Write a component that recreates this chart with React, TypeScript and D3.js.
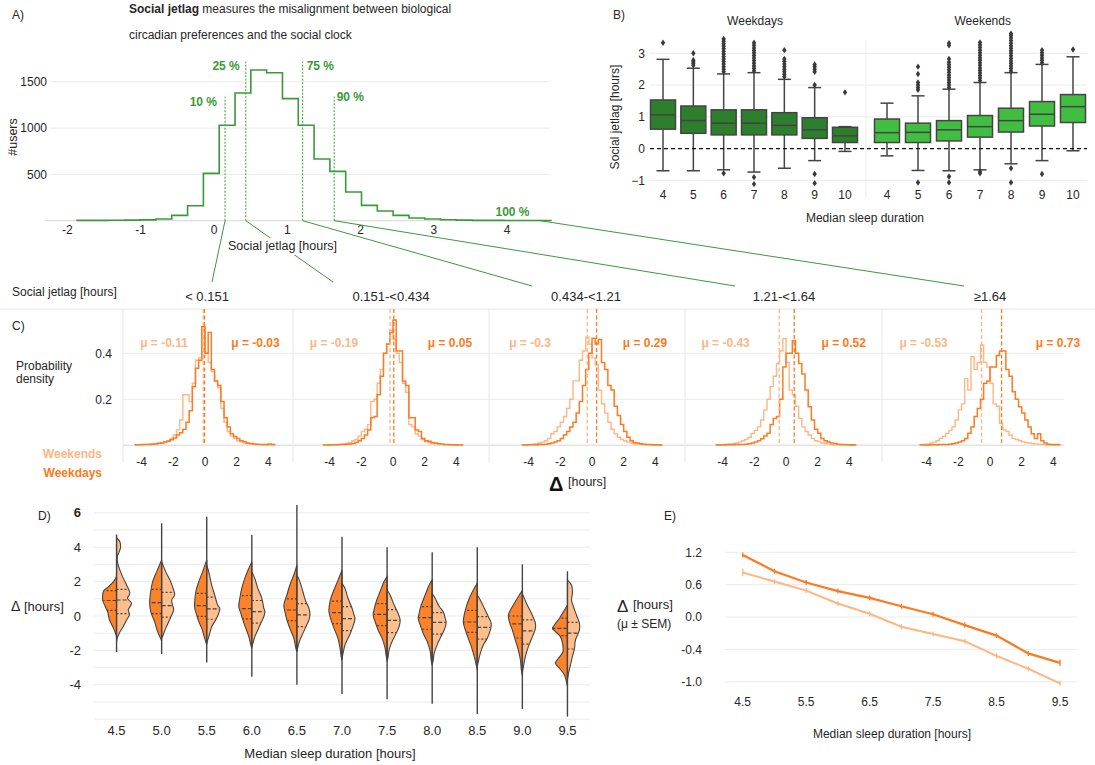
import React, { useEffect, useRef } from "react";
import * as d3 from "d3";

const FONT = "'Liberation Sans', Arial, Helvetica, sans-serif";
const TEXT = "#262626";
const GREEN = "#3a9a3a";
const GRID = "#ebebeb";
const INK = "#444444";
const WD_LINE = "#fd7a20";
const WE_LINE = "#fdb684";
const WD_FILL = "#fd8229";
const WE_FILL = "#fdbf8e";
const BOX_WD = "#2d7f2d";
const BOX_WE = "#41bd41";

// ---------------- Panel A: social jetlag histogram ----------------
const A_BIN_START = -1.87;
const A_BIN_WIDTH = 0.2157;
const A_COUNTS = [4, 3, 5, 6, 9, 18, 58, 162, 511, 1030, 1379, 1627, 1598, 1318, 1030, 666, 533, 310, 166, 104, 58, 29, 18, 11, 6, 4, 3, 2, 2, 2];
const A_PCT_VALUES = [0.151, 0.434, 1.21, 1.64];
const A_PCT_LABELS = ["10 %", "25 %", "75 %", "90 %"];
const A_X_TICKS = [-2, -1, 0, 1, 2, 3, 4];
const A_Y_TICKS = [500, 1000, 1500];

// ---------------- Panel B: boxplots ----------------
const B_CATS = ["4", "5", "6", "7", "8", "9", "10"];
const B_Y_TICKS = [-1, 0, 1, 2, 3];
// [lower whisker, q1, median, q3, upper whisker]
const B_WD_BOX = [
  [-0.7, 0.61, 1.06, 1.53, 2.81],
  [-0.7, 0.48, 0.88, 1.34, 2.53],
  [-0.67, 0.43, 0.8, 1.22, 2.35],
  [-0.74, 0.43, 0.8, 1.22, 2.39],
  [-0.62, 0.43, 0.73, 1.13, 2.18],
  [-0.38, 0.32, 0.59, 0.97, 1.92],
  [-0.09, 0.19, 0.4, 0.67, 0.69],
];
const B_WE_BOX = [
  [-0.23, 0.19, 0.5, 0.93, 1.43],
  [-0.69, 0.19, 0.51, 0.8, 1.66],
  [-0.7, 0.24, 0.59, 0.88, 1.87],
  [-0.67, 0.36, 0.69, 1.04, 2.08],
  [-0.48, 0.52, 0.88, 1.27, 2.39],
  [-0.38, 0.71, 1.08, 1.48, 2.65],
  [-0.07, 0.82, 1.32, 1.7, 2.89],
];
const B_WD_OUT = [
  [3.33],
  [2.62, 2.68, 2.73, 2.78, 3.0],
  [-0.78, 2.42, 2.5, 2.58, 2.66, 2.74, 2.82, 2.9, 2.98, 3.06, 3.14, 3.22, 3.3, 3.38, 3.45],
  [-1.12, -0.9, 2.45, 2.53, 2.61, 2.69, 2.77, 2.85, 2.93, 3.01, 3.09, 3.17, 3.25, 3.33],
  [2.26, 2.34, 2.42, 2.5, 2.58, 2.66, 2.74, 2.82, 3.1],
  [-1.09, -0.8, 2.0, 2.42, 2.5, 2.58, 2.65],
  [1.77],
];
const B_WE_OUT = [
  [],
  [-1.07, 1.85, 1.92, 2.0, 2.08, 2.35, 2.58],
  [-1.07, -0.88, 1.92, 2.0, 2.08, 2.16, 2.24, 2.32, 2.4, 2.48, 2.56, 2.64, 2.72, 2.82, 3.25, 3.32],
  [-0.78, -0.72, 2.14, 2.22, 2.3, 2.38, 2.46, 2.54, 2.62, 2.7, 2.78, 2.86, 2.94, 3.02, 3.1, 3.18, 3.26, 3.34],
  [-1.07, -0.62, 2.44, 2.52, 2.6, 2.68, 2.76, 2.84, 2.92, 3.0, 3.08, 3.16, 3.24, 3.32, 3.4, 3.48, 3.56, 3.62],
  [-0.8, 2.7, 2.78, 2.86, 2.94, 3.02, 3.1],
  [3.12],
];

// ---------------- Panel C: delta histograms per jetlag group ----------------
const C_GROUPS = ["< 0.151", "0.151-<0.434", "0.434-<1.21", "1.21-<1.64", "\u22651.64"];
const C_MEAN_WE = [-0.11, -0.19, -0.3, -0.43, -0.53];
const C_MEAN_WD = [-0.03, 0.05, 0.29, 0.52, 0.73];
const C_MEAN_WE_LABEL = ["-0.11", "-0.19", "-0.3", "-0.43", "-0.53"];
const C_MEAN_WD_LABEL = ["-0.03", "0.05", "0.29", "0.52", "0.73"];
const C_BIN_START = -4.4;
const C_BIN_WIDTH = 0.2;
const C_X_TICKS = [-4, -2, 0, 2, 4];
const C_Y_TICKS = [0.2, 0.4];
const C_WD = [
  [0.002, 0.002, 0.003, 0.003, 0.004, 0.005, 0.006, 0.008, 0.01, 0.014, 0.018, 0.024, 0.032, 0.045, 0.055, 0.07, 0.1, 0.15, 0.255, 0.335, 0.37, 0.515, 0.4, 0.49, 0.33, 0.28, 0.26, 0.19, 0.12, 0.08, 0.05, 0.038, 0.03, 0.02, 0.015, 0.01, 0.008, 0.006, 0.005, 0.004, 0.004, 0.003, 0.006, 0.003],
  [0.001, 0.001, 0.002, 0.002, 0.002, 0.003, 0.004, 0.005, 0.006, 0.008, 0.012, 0.02, 0.03, 0.045, 0.067, 0.12, 0.125, 0.22, 0.3, 0.4, 0.44, 0.49, 0.545, 0.41, 0.41, 0.28, 0.26, 0.12, 0.12, 0.067, 0.06, 0.03, 0.02, 0.018, 0.012, 0.01, 0.007, 0.006, 0.004, 0.003, 0.002, 0.002, 0.001, 0.001],
  [0.001, 0.001, 0.002, 0.002, 0.002, 0.003, 0.004, 0.005, 0.007, 0.01, 0.014, 0.02, 0.03, 0.045, 0.06, 0.08, 0.1, 0.14, 0.19, 0.26, 0.33, 0.4, 0.465, 0.44, 0.46, 0.36, 0.33, 0.26, 0.24, 0.17, 0.13, 0.09, 0.06, 0.035, 0.02, 0.012, 0.01, 0.007, 0.005, 0.004, 0.003, 0.002, 0.002, 0.001],
  [0.001, 0.001, 0.001, 0.002, 0.002, 0.002, 0.003, 0.003, 0.004, 0.005, 0.007, 0.01, 0.014, 0.02, 0.028, 0.04, 0.052, 0.09, 0.117, 0.125, 0.2, 0.34, 0.4, 0.4, 0.455, 0.4, 0.356, 0.31, 0.24, 0.168, 0.11, 0.07, 0.052, 0.03, 0.02, 0.014, 0.01, 0.008, 0.005, 0.004, 0.003, 0.002, 0.002, 0.001],
  [0.001, 0.001, 0.001, 0.002, 0.002, 0.002, 0.003, 0.003, 0.004, 0.005, 0.007, 0.01, 0.014, 0.02, 0.03, 0.052, 0.08, 0.125, 0.16, 0.2, 0.27, 0.28, 0.34, 0.34, 0.39, 0.41, 0.41, 0.33, 0.3, 0.233, 0.2, 0.168, 0.14, 0.11, 0.08, 0.05, 0.03, 0.05, 0.02, 0.01, 0.005, 0.004, 0.003, 0.004],
];
const C_WE = [
  [0.002, 0.003, 0.003, 0.004, 0.005, 0.006, 0.008, 0.01, 0.012, 0.016, 0.02, 0.03, 0.045, 0.067, 0.11, 0.22, 0.22, 0.19, 0.27, 0.37, 0.38, 0.5, 0.4, 0.36, 0.32, 0.28, 0.25, 0.16, 0.1, 0.06, 0.04, 0.03, 0.02, 0.015, 0.01, 0.008, 0.006, 0.005, 0.004, 0.003, 0.003, 0.002, 0.002, 0.002],
  [0.002, 0.002, 0.003, 0.003, 0.004, 0.004, 0.006, 0.008, 0.012, 0.02, 0.025, 0.04, 0.06, 0.07, 0.09, 0.19, 0.2, 0.27, 0.33, 0.4, 0.44, 0.5, 0.46, 0.4, 0.36, 0.27, 0.23, 0.09, 0.08, 0.05, 0.04, 0.025, 0.015, 0.012, 0.008, 0.006, 0.005, 0.004, 0.003, 0.002, 0.002, 0.001, 0.001, 0.001],
  [0.002, 0.003, 0.004, 0.005, 0.007, 0.01, 0.014, 0.02, 0.03, 0.05, 0.06, 0.08, 0.1, 0.125, 0.16, 0.2, 0.28, 0.28, 0.37, 0.41, 0.47, 0.44, 0.38, 0.35, 0.24, 0.18, 0.14, 0.1, 0.07, 0.05, 0.035, 0.025, 0.02, 0.014, 0.01, 0.007, 0.005, 0.004, 0.003, 0.002, 0.002, 0.001, 0.001, 0.001],
  [0.002, 0.003, 0.004, 0.005, 0.006, 0.008, 0.01, 0.014, 0.02, 0.025, 0.035, 0.052, 0.065, 0.08, 0.11, 0.154, 0.2, 0.255, 0.3, 0.356, 0.41, 0.465, 0.36, 0.24, 0.22, 0.17, 0.117, 0.08, 0.06, 0.045, 0.03, 0.02, 0.015, 0.01, 0.008, 0.005, 0.003, 0.002, 0.002, 0.001, 0.001, 0.001, 0.001, 0.001],
  [0.003, 0.004, 0.006, 0.01, 0.014, 0.02, 0.03, 0.038, 0.052, 0.065, 0.08, 0.11, 0.154, 0.18, 0.29, 0.24, 0.385, 0.33, 0.36, 0.436, 0.36, 0.34, 0.27, 0.18, 0.17, 0.095, 0.067, 0.06, 0.045, 0.03, 0.025, 0.02, 0.015, 0.012, 0.01, 0.008, 0.006, 0.005, 0.004, 0.003, 0.002, 0.002, 0.001, 0.001],
];

// ---------------- Panel D: split violins ----------------
const D_CATS = ["4.5", "5.0", "5.5", "6.0", "6.5", "7.0", "7.5", "8.0", "8.5", "9.0", "9.5"];
const D_Y_TICKS = [-4, -2, 0, 2, 4, 6];
const D_RANGE = [[-2.1, 4.74], [-2.21, 5.39], [-2.7, 5.77], [-3.53, 4.71], [-4.0, 6.45], [-4.54, 4.61], [-4.84, 3.99], [-5.1, 3.7], [-5.7, 4.0], [-5.4, 3.0], [-5.85, 2.6]];
// [q1, median, q3]
const D_WD_QUART = [[0.33, 0.9, 1.47], [0.14, 0.78, 1.55], [-0.02, 0.6, 1.32], [-0.17, 0.43, 1.18], [-0.27, 0.35, 0.99], [-0.44, 0.2, 0.87], [-0.56, 0.1, 0.72], [-0.77, -0.1, 0.55], [-0.95, -0.35, 0.33], [-1.28, -0.46, 0.0], [-1.14, -0.72, -0.12]];
const D_WE_QUART = [[0.14, 0.93, 1.55], [-0.07, 0.6, 1.37], [-0.19, 0.41, 1.1], [-0.41, 0.26, 0.9], [-0.62, 0.06, 0.72], [-0.85, -0.15, 0.55], [-0.97, -0.25, 0.37], [-1.05, -0.37, 0.2], [-1.34, -0.66, -0.04], [-1.63, -0.87, -0.23], [-1.92, -1.0, -0.37]];
// density profiles: [value, relative half width]
const D_WD_SHAPE = [
  [[2.29, 0], [2.0, 0.2], [1.71, 0.53], [1.45, 0.87], [1.12, 0.93], [0.93, 0.93], [0.64, 0.8], [0.26, 0.6], [-0.23, 0.47], [-0.72, 0.2], [-1.0, 0.07], [-1.2, 0]],
  [[3.26, 0], [2.58, 0.33], [2.0, 0.6], [1.41, 0.73], [0.83, 0.8], [0.26, 0.73], [-0.33, 0.47], [-0.91, 0.27], [-1.3, 0.07], [-1.45, 0]],
  [[3.26, 0], [2.58, 0.27], [2.0, 0.53], [1.41, 0.73], [0.83, 0.8], [0.45, 0.8], [0.06, 0.67], [-0.33, 0.53], [-0.72, 0.33], [-1.1, 0.2], [-1.49, 0.07], [-1.68, 0]],
  [[3.16, 0], [2.77, 0.2], [2.19, 0.47], [1.61, 0.67], [1.03, 0.8], [0.55, 0.87], [0.16, 0.73], [-0.23, 0.6], [-0.72, 0.4], [-1.2, 0.2], [-1.68, 0.07], [-1.88, 0]],
  [[2.97, 0], [2.58, 0.13], [1.8, 0.47], [1.22, 0.67], [0.64, 0.87], [0.26, 0.8], [-0.23, 0.67], [-0.72, 0.47], [-1.3, 0.2], [-1.88, 0.07], [-2.07, 0]],
  [[2.67, 0], [2.38, 0.13], [1.8, 0.4], [1.22, 0.67], [0.83, 0.8], [0.26, 0.87], [-0.23, 0.73], [-0.72, 0.53], [-1.3, 0.27], [-1.88, 0.13], [-2.27, 0.07], [-2.56, 0]],
  [[2.29, 0], [2.0, 0.2], [1.41, 0.47], [0.83, 0.73], [0.35, 0.87], [0.06, 0.93], [-0.33, 0.8], [-0.81, 0.6], [-1.3, 0.33], [-1.88, 0.13], [-2.27, 0.07], [-2.56, 0]],
  [[2.1, 0], [1.8, 0.2], [1.22, 0.47], [0.64, 0.73], [0.16, 0.87], [-0.13, 0.93], [-0.52, 0.8], [-1.01, 0.6], [-1.49, 0.33], [-2.07, 0.13], [-2.56, 0.07], [-2.85, 0]],
  [[1.9, 0], [1.61, 0.2], [1.03, 0.53], [0.55, 0.73], [0.06, 0.87], [-0.33, 0.93], [-0.81, 0.8], [-1.3, 0.6], [-1.78, 0.4], [-2.36, 0.2], [-2.85, 0.07], [-3.14, 0]],
  [[1.5, 0], [1.12, 0.27], [0.54, 0.67], [0.06, 0.93], [-0.33, 0.87], [-0.81, 0.67], [-1.4, 0.47], [-1.98, 0.27], [-2.56, 0.13], [-3.14, 0.07], [-3.5, 0]],
  [[0.64, 0], [0.35, 0.2], [-0.13, 0.53], [-0.52, 0.87], [-0.72, 1.0], [-0.91, 0.8], [-1.2, 0.47], [-1.59, 0.33], [-2.07, 0.3], [-2.46, 0.6], [-2.75, 0.8], [-3.04, 0.53], [-3.43, 0.2], [-3.82, 0.07], [-4.11, 0]],
];
const D_WE_SHAPE = [
  [[4.55, 0], [4.32, 0.22], [4.0, 0.27], [3.74, 0.18], [3.45, 0.05], [3.1, 0.07], [2.77, 0.18], [2.29, 0.4], [1.8, 0.67], [1.32, 0.89], [1.03, 0.73], [0.74, 1.0], [0.35, 0.78], [0.1, 0.87], [-0.23, 0.67], [-0.62, 0.44], [-1.0, 0.18], [-1.3, 0.04], [-1.5, 0]],
  [[3.16, 0], [2.58, 0.27], [2.0, 0.6], [1.51, 0.8], [1.22, 0.87], [0.93, 0.67], [0.64, 0.73], [0.35, 0.8], [0.06, 0.67], [-0.33, 0.47], [-0.72, 0.27], [-1.1, 0.1], [-1.3, 0]],
  [[2.97, 0], [2.58, 0.13], [1.8, 0.33], [1.22, 0.53], [0.64, 0.73], [0.45, 0.87], [0.16, 0.8], [-0.23, 0.6], [-0.62, 0.33], [-1.01, 0.2], [-1.39, 0.07], [-1.59, 0]],
  [[2.58, 0], [2.19, 0.2], [1.61, 0.4], [1.03, 0.67], [0.45, 0.8], [0.26, 0.87], [-0.03, 0.8], [-0.42, 0.6], [-0.81, 0.4], [-1.2, 0.2], [-1.59, 0.07], [-1.78, 0]],
  [[2.38, 0], [2.0, 0.2], [1.41, 0.4], [0.83, 0.6], [0.45, 0.8], [0.06, 0.87], [-0.23, 0.8], [-0.62, 0.6], [-1.01, 0.4], [-1.39, 0.2], [-1.78, 0.07], [-2.07, 0]],
  [[1.9, 0], [1.61, 0.2], [1.03, 0.4], [0.45, 0.67], [0.06, 0.8], [-0.13, 0.87], [-0.42, 0.8], [-0.91, 0.6], [-1.3, 0.4], [-1.68, 0.2], [-2.17, 0.07], [-2.46, 0]],
  [[1.51, 0], [1.22, 0.2], [0.64, 0.47], [0.16, 0.73], [-0.23, 0.87], [-0.62, 0.8], [-1.01, 0.6], [-1.49, 0.33], [-1.98, 0.13], [-2.36, 0.07], [-2.65, 0]],
  [[1.32, 0], [1.03, 0.2], [0.55, 0.47], [0.26, 0.73], [-0.13, 0.87], [-0.42, 0.93], [-0.81, 0.8], [-1.3, 0.53], [-1.68, 0.33], [-2.17, 0.13], [-2.56, 0.07], [-2.85, 0]],
  [[1.22, 0], [0.93, 0.2], [0.45, 0.47], [-0.03, 0.73], [-0.42, 0.93], [-0.81, 0.87], [-1.3, 0.67], [-1.68, 0.4], [-2.17, 0.2], [-2.65, 0.07], [-2.94, 0]],
  [[1.3, 0], [0.74, 0.27], [0.16, 0.6], [-0.43, 0.87], [-0.72, 0.87], [-1.2, 0.67], [-1.78, 0.4], [-2.36, 0.2], [-2.95, 0.07], [-3.3, 0]],
  [[2.09, 0], [1.8, 0.27], [1.32, 0.33], [0.93, 0.27], [0.54, 0.4], [0.06, 0.6], [-0.43, 0.8], [-0.81, 0.8], [-1.4, 0.53], [-1.88, 0.47], [-2.36, 0.33], [-2.85, 0.2], [-3.33, 0.07], [-3.72, 0]],
];

// ---------------- Panel E: mean +- SEM ----------------
const E_X = [4.5, 5.0, 5.5, 6.0, 6.5, 7.0, 7.5, 8.0, 8.5, 9.0, 9.5];
const E_WD = [1.15, 0.85, 0.64, 0.48, 0.355, 0.2, 0.05, -0.1, -0.23, -0.475, -0.65];
const E_WE = [0.825, 0.66, 0.49, 0.25, 0.06, -0.12, -0.21, -0.3, -0.52, -0.76, -1.03];
const E_WD_SEM = [0.03, 0.01, 0.01, 0.01, 0.01, 0.01, 0.01, 0.01, 0.01, 0.03, 0.06];
const E_WE_SEM = [0.07, 0.02, 0.01, 0.01, 0.01, 0.01, 0.01, 0.01, 0.01, 0.01, 0.02];
const E_Y_TICKS = [-1.0, -0.4, 0.0, 0.6, 1.2];
const E_X_TICKS = [4.5, 5.5, 6.5, 7.5, 8.5, 9.5];

function txt(g: any, x: number, y: number, s: string, o: any = {}) {
  const t = g.append("text").attr("x", x).attr("y", y).text(s)
    .attr("font-size", o.size ?? 12)
    .attr("fill", o.fill ?? TEXT)
    .attr("text-anchor", o.anchor ?? "start");
  if (o.weight) t.attr("font-weight", o.weight);
  if (o.rotate) t.attr("transform", `rotate(${o.rotate},${x},${y})`);
  return t;
}

function hline(g: any, x1: number, x2: number, y: number, color: string, w = 1) {
  g.append("line").attr("x1", x1).attr("x2", x2).attr("y1", y).attr("y2", y).attr("stroke", color).attr("stroke-width", w);
}

function drawA(svg: any) {
  const g = svg.append("g");
  const x = d3.scaleLinear().domain([-2.237, 4.584]).range([50, 550]);
  const y = d3.scaleLinear().domain([0, 1500]).range([220.7, 81.8]);

  A_Y_TICKS.forEach((t) => hline(g, 50, 550, y(t), GRID));
  hline(g, 45, 550, y(0), "#dedede", 1.2);
  A_Y_TICKS.forEach((t) => txt(g, 47, y(t) + 4.3, String(t), { anchor: "end" }));
  A_X_TICKS.forEach((t) => txt(g, x(t), 233.5, String(t), { anchor: "middle" }));

  const edges = A_COUNTS.map((_, i) => A_BIN_START + i * A_BIN_WIDTH);
  const lastEdge = A_BIN_START + A_COUNTS.length * A_BIN_WIDTH;
  const pts: [number, number][] = [[edges[0], 0], ...A_COUNTS.map((c, i) => [edges[i], c] as [number, number]), [lastEdge, 0]];
  const line = d3.line<[number, number]>().x((d) => x(d[0])).y((d) => y(d[1])).curve(d3.curveStepAfter);
  g.append("path").attr("d", line(pts)).attr("fill", "none").attr("stroke", GREEN).attr("stroke-width", 1.6);

  // percentile markers
  const tops = [96.7, 61.7, 61.7, 96.7];
  A_PCT_VALUES.forEach((v, i) => {
    g.append("line").attr("x1", x(v)).attr("x2", x(v)).attr("y1", y(0)).attr("y2", tops[i])
      .attr("stroke", GREEN).attr("stroke-width", 1).attr("stroke-dasharray", "2,1.5");
  });
  const lab = [
    { x: x(A_PCT_VALUES[0]) - 8, y: 106, a: "end" },
    { x: x(A_PCT_VALUES[1]) - 6, y: 69.5, a: "end" },
    { x: x(A_PCT_VALUES[2]) + 4, y: 69.5, a: "start" },
    { x: x(A_PCT_VALUES[3]) + 2.5, y: 101, a: "start" },
  ];
  A_PCT_LABELS.forEach((s, i) => txt(g, lab[i].x, lab[i].y, s, { anchor: lab[i].a, weight: "bold", fill: GREEN }));
  txt(g, 512.5, 216, "100 %", { anchor: "middle", weight: "bold", fill: GREEN });

  // connectors to panel C
  const ends = [[212, 282], [333, 282], [532, 286], [735, 286]];
  A_PCT_VALUES.forEach((v, i) => {
    g.append("line").attr("x1", x(v)).attr("y1", y(0)).attr("x2", ends[i][0]).attr("y2", ends[i][1])
      .attr("stroke", GREEN).attr("stroke-width", 1);
  });
  g.append("line").attr("x1", x(4.45)).attr("y1", y(0)).attr("x2", 964).attr("y2", 286)
    .attr("stroke", GREEN).attr("stroke-width", 1);

  g.append("rect").attr("x", 226).attr("y", 238).attr("width", 113).attr("height", 17).attr("fill", "#fff");
  txt(g, 282.5, 250, "Social jetlag [hours]", { anchor: "middle", size: 12.5 });
  txt(g, 17, 137, "#users", { anchor: "middle", rotate: -90, size: 12.5 });

  const t = g.append("text").attr("x", 129).attr("y", 13).attr("font-size", 12).attr("fill", TEXT);
  t.append("tspan").attr("font-weight", "bold").text("Social jetlag");
  t.append("tspan").text(" measures the misalignment between biological");
  txt(g, 129, 39, "circadian preferences and the social clock");
  txt(g, 12, 19, "A)");
}

function drawB(svg: any) {
  const g = svg.append("g");
  const y = d3.scaleLinear().domain([-1, 3]).range([180.3, 53.3]);
  B_Y_TICKS.filter((t) => t !== 0).forEach((t) => hline(g, 650, 1087, y(t), GRID));
  g.append("line").attr("x1", 866).attr("x2", 866).attr("y1", 40).attr("y2", 198).attr("stroke", GRID);
  B_Y_TICKS.forEach((t) => txt(g, 645, y(t) + 4.3, t < 0 ? "\u2212" + Math.abs(t) : String(t), { anchor: "end" }));

  const xs = [
    d3.scalePoint().domain(B_CATS).range([663, 845]),
    d3.scalePoint().domain(B_CATS).range([887, 1073]),
  ];
  const sets = [
    { box: B_WD_BOX, out: B_WD_OUT, fill: BOX_WD },
    { box: B_WE_BOX, out: B_WE_OUT, fill: BOX_WE },
  ];
  const bw = 25;
  const diamond = "M0,-3.2L2.2,0L0,3.2L-2.2,0Z";
  sets.forEach((s, k) => {
    const x = xs[k];
    B_CATS.forEach((c, i) => {
      const cx = x(c) as number;
      const [lo, q1, med, q3, hi] = s.box[i];
      const st = (e: any) => e.attr("stroke", INK).attr("stroke-width", 1.5);
      st(g.append("line").attr("x1", cx).attr("x2", cx).attr("y1", y(q3)).attr("y2", y(hi)));
      st(g.append("line").attr("x1", cx).attr("x2", cx).attr("y1", y(q1)).attr("y2", y(lo)));
      st(g.append("line").attr("x1", cx - 6.5).attr("x2", cx + 6.5).attr("y1", y(hi)).attr("y2", y(hi)));
      st(g.append("line").attr("x1", cx - 6.5).attr("x2", cx + 6.5).attr("y1", y(lo)).attr("y2", y(lo)));
      st(g.append("rect").attr("x", cx - bw / 2).attr("y", y(q3)).attr("width", bw).attr("height", y(q1) - y(q3)).attr("fill", s.fill));
      st(g.append("line").attr("x1", cx - bw / 2).attr("x2", cx + bw / 2).attr("y1", y(med)).attr("y2", y(med)));
      s.out[i].forEach((o) => {
        g.append("path").attr("d", diamond).attr("transform", `translate(${cx},${y(o)})`).attr("fill", "#3a3a3a");
      });
      txt(g, cx, 198.5, c, { anchor: "middle" });
    });
  });
  g.append("line").attr("x1", 650).attr("x2", 1087).attr("y1", y(0)).attr("y2", y(0))
    .attr("stroke", "#111").attr("stroke-width", 1.2).attr("stroke-dasharray", "4,3");

  txt(g, 755, 25, "Weekdays", { anchor: "middle" });
  txt(g, 982.7, 25, "Weekends", { anchor: "middle" });
  txt(g, 865, 222, "Median sleep duration", { anchor: "middle" });
  txt(g, 619, 117, "Social jetlag [hours]", { anchor: "middle", rotate: -90 });
  txt(g, 613, 19, "B)");
}

function drawC(svg: any) {
  const g = svg.append("g");
  const y = d3.scaleLinear().domain([0, 0.4]).range([445.3, 353.3]);
  const zeros = [205, 393, 592, 786, 990];
  const lefts = [123, 293, 489, 685, 882];
  const rightEnd = 1064;
  const px = 15.85;
  const weX = [164, 334, 530, 725.6, 923.6];
  const wdX = [255.5, 450, 645, 843.7, 1058];
  const titleX = [207, 391, 586, 784, 990];

  hline(g, 0, 1095, 309, "#e6e6e6");
  C_Y_TICKS.forEach((t) => hline(g, 123, rightEnd, y(t), GRID));
  hline(g, 123, rightEnd, y(0), "#e3e3e3", 1.5);
  lefts.forEach((l) => g.append("line").attr("x1", l).attr("x2", l).attr("y1", 309).attr("y2", 463).attr("stroke", "#e6e6e6"));
  C_Y_TICKS.forEach((t) => txt(g, 112, y(t) + 4.3, String(t), { anchor: "end" }));

  const edges = C_WD[0].map((_, i) => C_BIN_START + i * C_BIN_WIDTH);
  const last = C_BIN_START + C_WD[0].length * C_BIN_WIDTH;

  C_GROUPS.forEach((grp, k) => {
    const left = lefts[k];
    const right = k < 4 ? lefts[k + 1] : rightEnd;
    const x = d3.scaleLinear().domain([(left - zeros[k]) / px, (right - zeros[k]) / px]).range([left, right]);
    const line = d3.line<[number, number]>().x((d) => x(d[0])).y((d) => y(d[1])).curve(d3.curveStepAfter);
    const mk = (vals: number[]): [number, number][] => [[edges[0], 0], ...vals.map((v, i) => [edges[i], v] as [number, number]), [last, 0]];
    g.append("path").attr("d", line(mk(C_WE[k]))).attr("fill", "none").attr("stroke", WE_LINE).attr("stroke-width", 1.4);
    g.append("path").attr("d", line(mk(C_WD[k]))).attr("fill", "none").attr("stroke", WD_LINE).attr("stroke-width", 1.5);

    g.append("line").attr("x1", x(C_MEAN_WE[k])).attr("x2", x(C_MEAN_WE[k])).attr("y1", 309).attr("y2", y(0))
      .attr("stroke", WE_LINE).attr("stroke-width", 1.3).attr("stroke-dasharray", "4,2.5");
    g.append("line").attr("x1", x(C_MEAN_WD[k])).attr("x2", x(C_MEAN_WD[k])).attr("y1", 309).attr("y2", y(0))
      .attr("stroke", WD_LINE).attr("stroke-width", 1.3).attr("stroke-dasharray", "4,2.5");

    C_X_TICKS.forEach((t) => txt(g, x(t), 465.5, String(t), { anchor: "middle" }));
    txt(g, weX[k], 347, "\u03bc = " + C_MEAN_WE_LABEL[k], { anchor: "middle", weight: "bold", fill: WE_LINE });
    txt(g, wdX[k], 347, "\u03bc = " + C_MEAN_WD_LABEL[k], { anchor: "middle", weight: "bold", fill: WD_LINE });
    txt(g, titleX[k], 300.5, grp, { anchor: "middle", size: 13 });
  });

  txt(g, 12, 296, "Social jetlag [hours]");
  txt(g, 12, 330, "C)");
  txt(g, 16, 369.5, "Probability");
  txt(g, 16, 383, "density");
  txt(g, 102, 457.5, "Weekends", { anchor: "end", weight: "bold", fill: WE_LINE });
  txt(g, 102, 476.5, "Weekdays", { anchor: "end", weight: "bold", fill: WD_LINE });
  txt(g, 549, 491, "\u0394", { weight: "bold", size: 20, fill: "#111" });
  txt(g, 568, 486, "[hours]", { size: 12.5 });
}

function drawD(svg: any) {
  const g = svg.append("g");
  const x = d3.scaleBand().domain(D_CATS).range([94, 590]);
  const y = d3.scaleLinear().domain([-6, 6]).range([719.2, 512.8]);
  const w = d3.scaleLinear().domain([0, 1]).range([0, 15]);

  y.ticks(12).forEach((t) => hline(g, 94, 590, y(t), GRID));
  D_Y_TICKS.forEach((t) => txt(g, 81, y(t) + 4.5, String(t), { anchor: "end", size: 13, weight: t === 6 ? "bold" : null }));
  D_CATS.forEach((c) => txt(g, (x(c) as number) + x.bandwidth() / 2, 734.5, c, { anchor: "middle", size: 13 }));

  D_CATS.forEach((c, i) => {
    const cx = (x(c) as number) + x.bandwidth() / 2;
    const halves: any[] = [
      [D_WD_SHAPE[i], -1, WD_FILL, D_WD_QUART[i]],
      [D_WE_SHAPE[i], 1, WE_FILL, D_WE_QUART[i]],
    ];
    halves.forEach(([shape, side, fill, q]) => {
      const area = d3.area<number[]>().curve(d3.curveCatmullRom.alpha(0.5))
        .y((d) => y(d[0])).x0(cx).x1((d) => cx + side * w(d[1]));
      g.append("path").attr("d", area(shape)).attr("fill", fill).attr("stroke", INK).attr("stroke-width", 1.1);
      const sorted = (shape as number[][]).slice().sort((a, b) => a[0] - b[0]);
      const wi = d3.scaleLinear().domain(sorted.map((d) => d[0])).range(sorted.map((d) => d[1])).clamp(true);
      (q as number[]).forEach((qv, j) => {
        g.append("line").attr("x1", cx).attr("x2", cx + side * w(wi(qv)) * 0.97).attr("y1", y(qv)).attr("y2", y(qv))
          .attr("stroke", INK).attr("stroke-width", 1.2).attr("stroke-dasharray", j === 1 ? "4,2" : "2,2");
      });
    });
    g.append("line").attr("x1", cx).attr("x2", cx).attr("y1", y(D_RANGE[i][0])).attr("y2", y(D_RANGE[i][1]))
      .attr("stroke", INK).attr("stroke-width", 1.4);
  });

  txt(g, 38, 520, "D)");
  txt(g, 11, 611, "\u0394", { size: 14 });
  txt(g, 24, 611, "[hours]", { size: 13 });
  txt(g, 330, 757.5, "Median sleep duration [hours]", { anchor: "middle", size: 13 });
}

function drawE(svg: any) {
  const g = svg.append("g");
  const x = d3.scaleLinear().domain([4.5, 9.5]).range([742.7, 1060]);
  const y = d3.scaleLinear().domain(E_Y_TICKS).range(E_Y_TICKS.map((_, i) => 681.7 - i * 32.35));
  E_Y_TICKS.forEach((t) => hline(g, 725, 1077, y(t), GRID));
  E_Y_TICKS.forEach((t) => txt(g, 702, y(t) + 4.3, t.toFixed(1), { anchor: "end" }));
  E_X_TICKS.forEach((t) => txt(g, x(t), 706, t.toFixed(1), { anchor: "middle" }));

  const series = [
    { v: E_WE, s: E_WE_SEM, c: WE_LINE, w: 2 },
    { v: E_WD, s: E_WD_SEM, c: WD_LINE, w: 2.2 },
  ];
  series.forEach((sr) => {
    const line = d3.line<number>().x((_, i) => x(E_X[i])).y((d) => y(d));
    g.append("path").attr("d", line(sr.v)).attr("fill", "none").attr("stroke", sr.c).attr("stroke-width", sr.w);
    sr.v.forEach((v, i) => {
      const lo = y(v - sr.s[i]);
      const hi = y(v + sr.s[i]);
      g.append("line").attr("x1", x(E_X[i])).attr("x2", x(E_X[i])).attr("y1", Math.max(lo, y(v) + 2.5)).attr("y2", Math.min(hi, y(v) - 2.5))
        .attr("stroke", sr.c).attr("stroke-width", 1.3);
    });
  });

  txt(g, 664, 519.5, "E)");
  txt(g, 617, 612, "\u0394", { size: 17 });
  txt(g, 633, 609, "[hours]", { size: 13 });
  txt(g, 617, 627.5, "(\u03bc \u00b1 SEM)");
  txt(g, 892, 737.5, "Median sleep duration [hours]", { anchor: "middle" });
}

export default function App() {
  const ref = useRef<SVGSVGElement | null>(null);
  useEffect(() => {
    const svg = d3.select(ref.current);
    svg.selectAll("*").remove();
    drawA(svg);
    drawB(svg);
    drawC(svg);
    drawD(svg);
    drawE(svg);
  }, []);
  return (
    <svg
      ref={ref}
      width={1095}
      height={765}
      viewBox="0 0 1095 765"
      style={{ position: "absolute", left: 0, top: 0, background: "#fff", fontFamily: FONT }}
    />
  );
}
